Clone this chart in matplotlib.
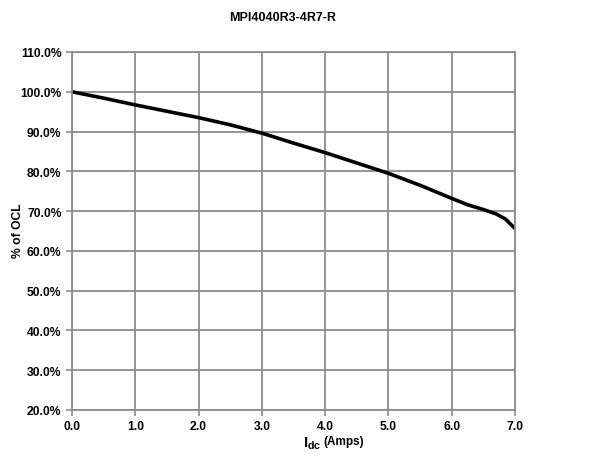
import matplotlib
matplotlib.use("Agg")
import matplotlib.pyplot as plt
from matplotlib.ticker import FuncFormatter

plt.rcParams['font.family'] = ['Liberation Sans', 'DejaVu Sans']
plt.rcParams['font.weight'] = 'bold'
plt.rcParams['mathtext.fontset'] = 'custom'
plt.rcParams['mathtext.rm'] = 'Liberation Sans:bold'
plt.rcParams['mathtext.it'] = 'Liberation Sans:bold'
plt.rcParams['mathtext.bf'] = 'Liberation Sans:bold'

title = "MPI4040R3-4R7-R"
current_amps = [0.0, 0.5, 1.0, 1.5, 2.0, 2.5, 3.0, 3.5, 4.0, 4.5, 5.0, 5.5, 6.0, 6.25, 6.5, 6.7, 6.85, 7.0]
pct_ocl = [100.0, 98.4, 96.7, 95.1, 93.5, 91.7, 89.6, 87.1, 84.7, 82.1, 79.5, 76.5, 73.2, 71.6, 70.4, 69.3, 68.0, 65.6]
x_ticks = [0, 1, 2, 3, 4, 5, 6, 7]
y_ticks = [20, 30, 40, 50, 60, 70, 80, 90, 100, 110]

fig = plt.figure(figsize=(6.13, 4.64), dpi=100)
ax = fig.add_axes([72/613, 1 - 411/464, (515-72)/613, (411-53)/464])

ax.plot(current_amps, pct_ocl, color='black', lw=2.6, solid_capstyle='butt', solid_joinstyle='round')
ax.set_xlim(0, 7)
ax.set_ylim(20, 110)
ax.set_xticks(x_ticks)
ax.set_yticks(y_ticks)
ax.xaxis.set_major_formatter(FuncFormatter(lambda v, p: f"{v:.1f}"))
ax.yaxis.set_major_formatter(FuncFormatter(lambda v, p: f"{v:.1f}%"))
ax.grid(True, color='#8c8c8c', lw=1.3)
ax.set_axisbelow(True)
for s in ax.spines.values():
    s.set_color('#8c8c8c')
    s.set_linewidth(1.3)
ax.tick_params(axis='both', colors='#8c8c8c', length=4, width=1.2, labelcolor='black', labelsize=8.7)
for lab in ax.get_xticklabels() + ax.get_yticklabels():
    lab.set_fontweight('bold')

fig.text(283/613, 1 - 18/464, title, ha='center', va='center', fontsize=9, fontweight='bold')
fig.text(321/613, 1 - 444/464, r"I$_{\mathrm{dc}}$", ha='right', va='center', fontsize=11, fontweight='bold')
fig.text(323/613, 1 - 442/464, "(Amps)", ha='left', va='center', fontsize=8.5, fontweight='bold')
fig.text(18/613, 1 - 231/464, "% of OCL", ha='center', va='center', rotation=90, fontsize=8.7, fontweight='bold')

fig.savefig("out.png", dpi=100)
